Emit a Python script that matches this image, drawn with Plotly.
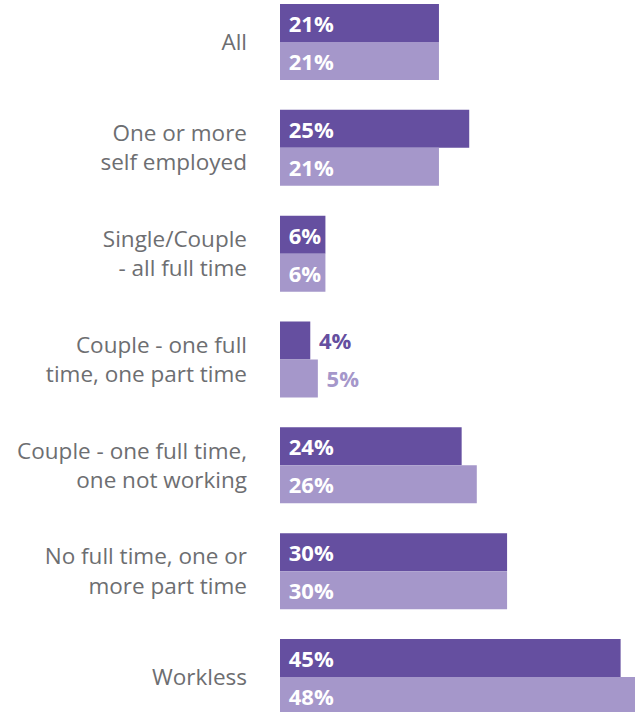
import plotly.graph_objects as go

categories = [
    "All",
    "One or more<br>self employed",
    "Single/Couple<br>- all full time",
    "Couple - one full<br>time, one part time",
    "Couple - one full time,<br>one not working",
    "No full time, one or<br>more part time",
    "Workless",
]
series_a = [21, 25, 6, 4, 24, 30, 45]
series_b = [21, 21, 6, 5, 26, 30, 48]

dark = "#654fa0"
light = "#a597ca"
outside_threshold = 5.5

def positions(vals):
    return ["outside" if v < outside_threshold else "inside" for v in vals]

def colors(vals, c):
    return [c if v < outside_threshold else "white" for v in vals]

fig = go.Figure()
for vals, c in [(series_a, dark), (series_b, light)]:
    fig.add_trace(go.Bar(
        y=categories, x=vals, orientation="h",
        marker=dict(color=c, line=dict(width=0)),
        text=[f" {v}%" for v in vals],
        textposition=positions(vals),
        insidetextanchor="start",
        textfont=dict(family="Open Sans", size=22, color=colors(vals, c), weight="bold"),
        constraintext="none",
        cliponaxis=True,
        hoverinfo="skip",
    ))

fig.update_layout(
    width=635, height=712,
    margin=dict(l=280, r=0, t=0, b=0),
    barmode="group", bargap=0.282, bargroupgap=0,
    plot_bgcolor="white", paper_bgcolor="white",
    showlegend=False,
    xaxis=dict(range=[0, 46.9], visible=False, fixedrange=True),
    yaxis=dict(
        range=[6.331, -0.397], showgrid=False, zeroline=False, showline=False,
        ticks="", ticklabelstandoff=32,
        tickfont=dict(family="Open Sans", size=22.5, color="#6d6e71"),
    ),
    uniformtext=dict(mode=False),
)

fig.write_html("out.html")
